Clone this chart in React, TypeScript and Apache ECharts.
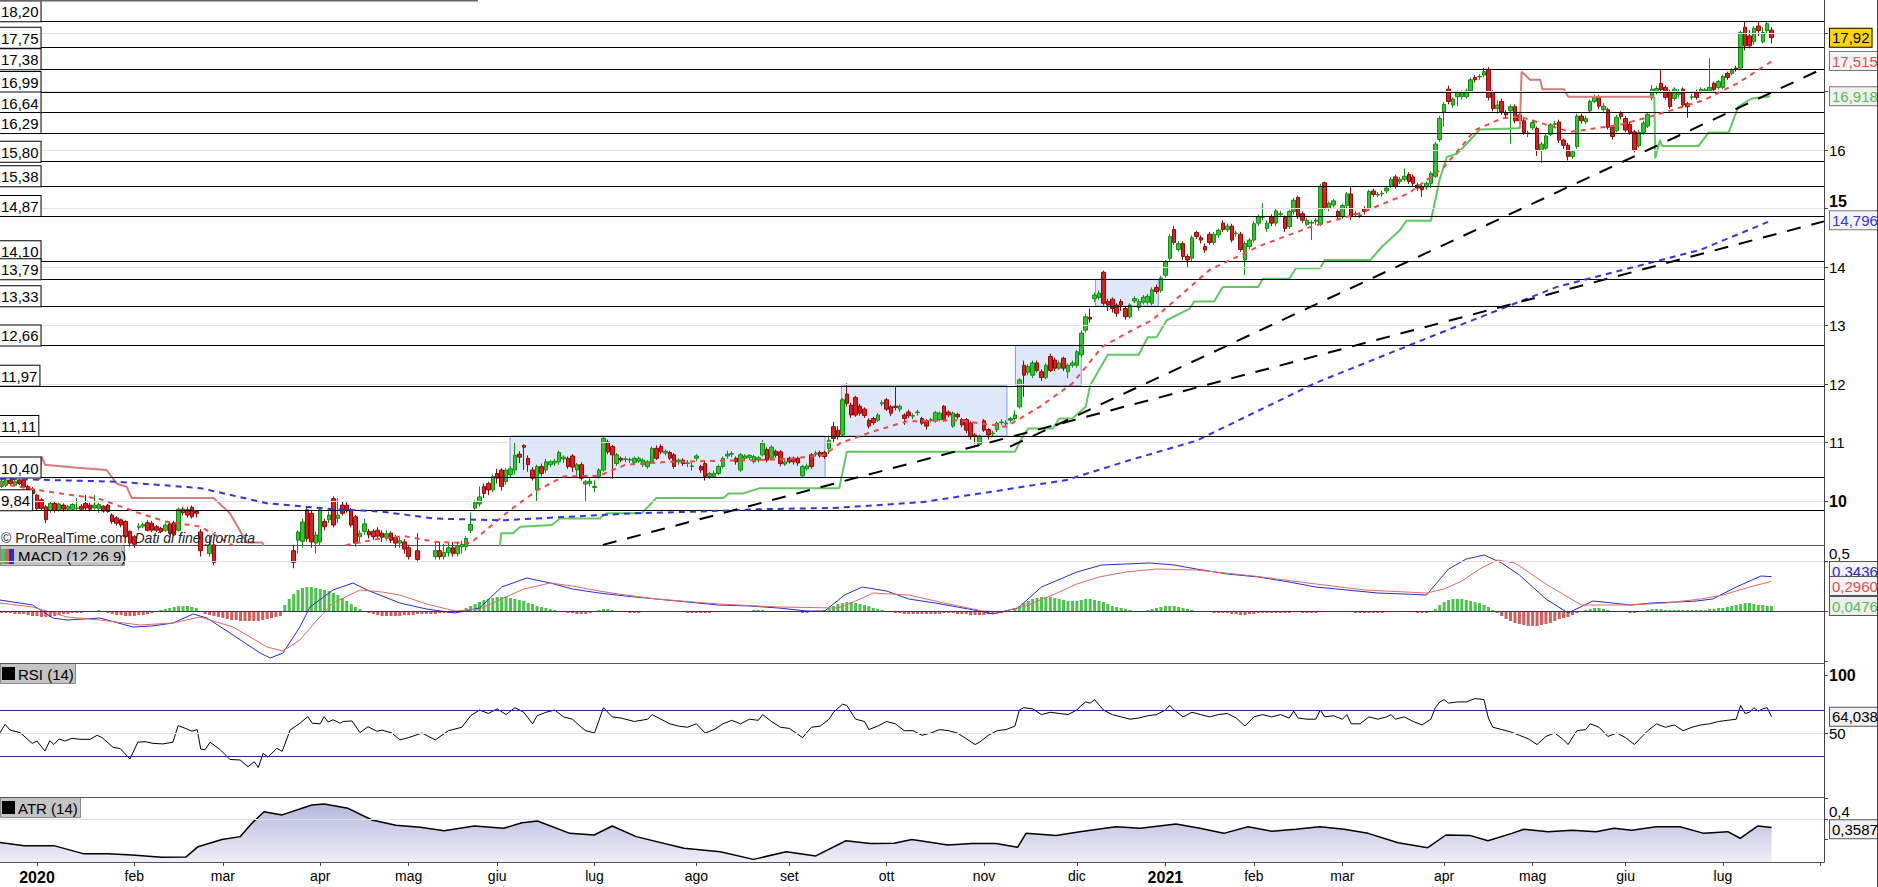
import React, { useEffect, useRef } from "react";
import * as echarts from "echarts";

// ================= DATA =================
// x = trading-day index, 0 = first session of 2020 (2 Jan); first candle = index -8 (mid Dec 2019)
const FIRST_DAY_INDEX = -8;

const monthTickIndex = [0, 22, 42, 64, 84, 104, 126, 149, 170, 192, 214, 235, 255, 275, 295, 318, 338, 359, 381, 403];
const monthTickLabel = ["2020", "feb", "mar", "apr", "mag", "giu", "lug", "ago", "set", "ott", "nov", "dic", "2021", "feb", "mar", "apr", "mag", "giu", "lug", ""];

// daily candles [open, close, low, high]
const ohlcDec19ToMay20 = [
  [10.25,10.34,10.22,10.38],[10.27,10.36,10.24,10.40],[10.36,10.30,10.27,10.39],[10.27,10.33,10.25,10.36],
  [10.36,10.30,10.27,10.38],[10.36,10.24,10.22,10.38],[10.25,10.19,10.16,10.28],[10.20,10.13,10.10,10.24],
  [10.10,9.87,9.85,10.12],[10.02,9.87,9.84,10.05],[9.90,9.68,9.62,9.93],[9.84,9.96,9.80,9.98],[9.96,9.84,9.80,9.99],
  [9.85,9.95,9.82,9.97],[9.93,9.86,9.82,9.96],[9.86,9.91,9.83,9.93],[9.86,9.94,9.84,9.96],[9.87,9.88,9.85,10.05],
  [9.91,9.86,9.83,9.95],[9.96,9.88,9.84,10.10],[9.93,9.86,9.82,9.97],[9.88,9.93,9.85,10.10],[9.87,9.94,9.80,9.97],
  [9.91,9.83,9.80,9.93],[9.93,9.82,9.80,9.95],[9.76,9.65,9.61,9.79],[9.71,9.62,9.58,9.74],[9.68,9.59,9.55,9.70],
  [9.65,9.39,9.36,9.67],[9.48,9.28,9.22,9.50],[9.39,9.26,9.20,9.42],[9.55,9.57,9.50,9.62],[9.57,9.60,9.54,9.63],
  [9.63,9.50,9.48,9.67],[9.62,9.50,9.47,9.66],[9.56,9.50,9.47,9.59],[9.53,9.48,9.45,9.56],[9.50,9.59,9.47,9.62],
  [9.61,9.45,9.42,9.64],[9.63,9.42,9.40,9.66],[9.50,9.86,9.48,9.89],[9.86,9.80,9.75,9.90],[9.85,9.76,9.72,9.90],
  [9.89,9.73,9.70,9.92],[9.82,9.79,9.72,9.84],[9.47,9.15,9.05,9.52],[9.15,9.00,8.95,9.22],[9.10,9.25,9.05,9.40],
  [9.25,8.95,8.90,9.30],[9.00,8.85,8.80,9.10],[8.85,9.05,8.80,9.15],[9.05,8.80,8.70,9.10],[8.80,8.60,8.50,8.90],
  [8.60,8.30,8.20,8.70],[8.30,8.55,8.20,8.60],[8.50,8.00,7.90,8.60],[8.00,7.60,7.40,8.10],[7.60,8.00,7.50,8.10],
  [8.00,7.50,7.30,8.10],[7.50,7.90,7.40,8.00],[7.90,7.60,7.40,8.10],[7.60,8.10,7.50,8.20],[8.10,7.80,7.60,8.30],
  [7.80,8.40,7.70,8.50],[8.40,8.80,8.30,8.90],[8.80,9.10,8.70,9.20],[9.15,8.95,8.85,9.25],[9.33,9.47,9.10,9.50],
  [9.31,9.64,9.20,9.70],[9.85,9.36,9.30,9.90],[9.79,9.30,9.20,9.85],[9.28,9.42,9.10,9.48],[9.30,9.85,9.25,9.90],
  [9.65,9.56,9.50,9.70],[9.68,9.76,9.62,9.82],[10.04,9.59,9.55,10.08],[9.70,9.76,9.62,10.05],[9.93,9.79,9.75,10.00],
  [9.93,9.85,9.80,9.98],[9.85,9.59,9.55,9.88],[9.73,9.28,9.22,9.76],[9.39,9.45,9.30,9.50],[9.48,9.61,9.42,9.70],
  [9.48,9.42,9.36,9.52],[9.48,9.39,9.33,9.52],[9.50,9.40,9.35,9.55],[9.45,9.38,9.30,9.50],[9.38,9.44,9.32,9.50],
  [9.45,9.33,9.28,9.48],[9.38,9.28,9.20,9.42],[9.28,9.32,9.20,9.38],[9.30,9.18,9.10,9.35],[9.20,9.05,9.00,9.25],
  [9.05,9.15,9.00,9.20],[9.15,9.00,8.95,9.45],[9.00,9.10,8.90,9.15],[9.10,8.95,8.90,9.15],[8.95,9.05,8.90,9.10],
  [9.05,9.15,9.00,9.28],[9.15,9.05,9.00,9.30],[9.05,9.12,9.00,9.27],[9.12,9.20,9.05,9.28],[9.20,9.10,9.05,9.30],
  [9.10,9.22,9.05,9.30],[9.22,9.26,9.10,9.32]
];
const ohlcJun20ToDec20 = [
  [9.22,9.36,9.15,9.40],[9.50,9.60,9.45,9.80],[9.88,9.98,9.85,10.02],[9.95,10.07,9.90,10.25],[10.25,10.13,10.05,10.30],
  [10.30,10.19,10.10,10.33],[10.19,10.42,10.15,10.45],[10.47,10.39,10.30,10.55],[10.53,10.25,10.18,10.56],
  [10.33,10.53,10.28,10.56],[10.45,10.55,10.40,10.60],[10.53,10.78,10.45,11.01],[10.80,10.75,10.65,10.85],
  [10.95,10.92,10.53,10.97],[10.73,10.62,10.50,10.78],[10.53,10.39,10.35,10.58],[10.19,10.59,10.00,10.62],
  [10.59,10.47,10.42,10.64],[10.53,10.67,10.48,10.72],[10.62,10.67,10.58,10.70],[10.65,10.68,10.60,10.72],
  [10.67,10.83,10.62,10.86],[10.72,10.75,10.65,10.78],[10.73,10.59,10.55,10.76],[10.77,10.58,10.50,10.80],
  [10.53,10.62,10.40,10.65],[10.62,10.39,10.35,10.66],[10.29,10.33,9.99,10.36],[10.30,10.34,10.25,10.40],
  [10.23,10.25,10.15,10.35],[10.42,10.53,10.38,10.56],[10.53,11.07,10.50,11.10],[11.01,10.84,10.80,11.05],
  [10.93,10.79,10.38,10.96],[10.64,10.79,10.60,10.82],[10.73,10.70,10.66,10.76],[10.71,10.72,10.66,10.76],
  [10.70,10.71,10.65,10.74],[10.66,10.73,10.62,10.76],[10.68,10.73,10.65,10.76],[10.62,10.70,10.58,10.73],
  [10.59,10.67,10.55,10.70],[10.67,10.90,10.64,10.93],[10.90,10.73,10.70,10.95],[10.93,10.84,10.80,10.97],
  [10.82,10.85,10.78,10.88],[10.83,10.73,10.70,10.86],[10.79,10.59,10.55,10.82],[10.67,10.70,10.62,10.73],
  [10.70,10.64,10.60,10.73],[10.64,10.65,10.58,10.70],[10.59,10.60,10.52,10.66],[10.73,10.77,10.68,10.80],
  [10.59,10.53,10.48,10.62],[10.64,10.42,10.35,10.67],[10.42,10.47,10.38,10.50],[10.42,10.47,10.40,10.52],
  [10.47,10.59,10.44,10.62],[10.59,10.73,10.56,10.76],[10.77,10.80,10.72,10.86],[10.80,10.81,10.75,10.85],
  [10.73,10.67,10.62,10.76],[10.53,10.79,10.50,10.82],[10.73,10.77,10.70,10.80],[10.74,10.78,10.70,10.80],
  [10.67,10.76,10.64,10.79],[10.70,10.74,10.66,10.77],[10.79,10.99,10.76,11.04],[10.88,10.70,10.66,10.92],
  [10.73,10.92,10.70,10.95],[10.85,10.78,10.74,10.88],[10.84,10.64,10.59,10.87],[10.63,10.67,10.60,10.70],
  [10.73,10.67,10.64,10.76],[10.73,10.67,10.62,10.76],[10.73,10.65,10.60,10.76],[10.43,10.59,10.40,10.62],
  [10.55,10.60,10.52,10.64],[10.79,10.59,10.55,10.82],[10.80,10.82,10.76,10.86],[10.83,10.77,10.74,10.86],
  [10.83,10.76,10.72,10.86],[10.90,11.04,10.80,11.12],[11.27,11.07,11.00,11.35],[11.21,11.10,11.05,11.28],
  [11.13,11.73,11.10,11.76],[11.83,11.67,11.62,12.01],[11.64,11.47,11.42,11.68],[11.77,11.47,11.44,11.80],
  [11.62,11.50,11.46,11.66],[11.57,11.46,11.42,11.60],[11.38,11.28,11.24,11.42],[11.41,11.34,11.30,11.44],
  [11.38,11.47,11.35,11.50],[11.66,11.68,11.62,11.72],[11.73,11.57,11.54,11.76],[11.61,11.50,11.45,11.64],
  [11.62,11.60,11.55,11.95],[11.57,11.62,11.52,11.65],[11.47,11.41,11.30,11.50],[11.52,11.46,11.42,11.56],
  [11.45,11.46,11.40,11.50],[11.51,11.52,11.46,11.56],[11.41,11.33,11.30,11.44],[11.37,11.28,11.22,11.40],
  [11.38,11.39,11.34,11.42],[11.37,11.51,11.34,11.54],[11.39,11.50,11.36,11.53],[11.62,11.39,11.36,11.64],
  [11.52,11.47,11.43,11.55],[11.28,11.50,11.25,11.53],[11.48,11.44,11.40,11.51],[11.39,11.30,11.26,11.42],
  [11.39,11.21,11.16,11.42],[11.33,11.10,11.05,11.36],[11.13,11.10,10.98,11.16],[10.97,11.11,10.94,11.14],
  [11.37,11.21,11.18,11.40],[11.22,11.13,11.05,11.25],[11.15,11.16,11.10,11.20],[11.22,11.33,11.18,11.36],
  [11.34,11.35,11.30,11.40],[11.32,11.33,11.28,11.38],[11.38,11.41,11.34,11.44],[11.41,11.47,11.38,11.55],
  [11.61,12.07,11.58,12.10],[12.32,12.15,11.78,12.40],[12.20,12.30,12.15,12.34],[12.15,12.36,12.10,12.40],
  [12.36,12.23,12.20,12.40],[12.21,12.11,12.05,12.25],[12.11,12.32,12.08,12.35],[12.47,12.23,12.20,12.52],
  [12.41,12.27,12.22,12.45],[12.27,12.36,12.24,12.40],[12.44,12.27,12.22,12.47],[12.21,12.32,12.10,12.35],
  [12.32,12.36,12.28,12.40],[12.32,12.55,12.28,12.58],[12.50,12.87,12.46,12.92],[12.92,13.15,12.88,13.20],
  [13.14,13.11,13.05,13.29],[13.46,13.52,13.40,13.56],[13.48,13.55,13.44,13.60],[13.91,13.38,13.34,13.94],
  [13.41,13.35,13.25,13.46],[13.45,13.29,13.22,13.48],[13.35,13.21,13.15,13.38],[13.41,13.35,13.25,13.45],
  [13.29,13.15,13.10,13.32],[13.15,13.35,13.12,13.38],[13.42,13.46,13.38,13.50],[13.31,13.41,13.25,13.45],
  [13.40,13.48,13.36,13.52],[13.40,13.50,13.36,13.54],[13.38,13.61,13.35,13.65],[13.65,13.58,13.54,13.70],
  [13.60,13.81,13.56,13.85]
];
const ohlcJan21ToJul21 = [
  [13.86,14.09,13.82,14.12],[14.15,14.52,14.10,14.56],[14.64,14.42,14.38,14.70],[14.30,14.40,14.26,14.44],
  [14.40,14.18,14.12,14.44],[14.18,14.12,13.98,14.22],[14.15,14.50,14.10,14.54],[14.59,14.52,14.48,14.62],
  [14.50,14.46,14.40,14.54],[14.35,14.29,14.24,14.40],[14.56,14.42,14.38,14.60],[14.42,14.56,14.38,14.60],
  [14.55,14.63,14.50,14.66],[14.75,14.64,14.60,14.80],[14.64,14.70,14.60,14.74],[14.70,14.46,14.42,14.74],
  [14.57,14.58,14.52,14.62],[14.56,14.30,14.26,14.60],[14.12,14.40,13.86,14.44],[14.35,14.46,14.30,14.50],
  [14.46,14.74,14.42,14.78],[14.75,14.86,14.70,14.90],[14.85,14.86,14.80,15.09],[14.66,14.75,14.60,14.80],
  [14.85,14.75,14.70,14.90],[14.75,14.96,14.70,15.00],[14.90,14.91,14.85,14.96],[14.85,14.66,14.60,14.88],
  [14.69,14.95,14.65,14.98],[14.95,15.14,14.90,15.18],[15.19,14.86,14.82,15.22],[14.91,14.80,14.75,14.95],
  [14.73,14.80,14.70,14.84],[14.75,14.76,14.46,14.80],[14.78,14.80,14.72,14.84],[14.73,15.38,14.70,15.42],
  [15.44,15.02,14.98,15.46],[15.00,15.09,14.95,15.12],[15.06,15.13,15.02,15.16],[14.95,14.86,14.82,14.98],
  [14.86,15.05,14.82,15.08],[15.05,15.25,15.00,15.28],[15.25,14.86,14.80,15.38],[14.90,14.91,14.85,14.96],
  [14.88,14.89,14.84,14.94],[15.00,14.95,14.90,15.04],[15.00,15.29,14.96,15.32],[15.30,15.24,15.20,15.34],
  [15.23,15.24,15.19,15.28],[15.25,15.26,15.20,15.30],[15.30,15.35,15.26,15.38],[15.38,15.50,15.35,15.54],
  [15.54,15.38,15.34,15.58],[15.46,15.50,15.42,15.54],[15.50,15.55,15.46,15.68],[15.58,15.46,15.42,15.62],
  [15.54,15.43,15.38,15.58],[15.40,15.35,15.30,15.44],[15.37,15.32,15.20,15.40],[15.37,15.43,15.32,15.46],
  [15.43,15.60,15.35,15.63],[15.55,16.10,15.52,16.14],[16.18,16.54,16.14,16.58],[16.65,16.78,16.40,16.82],
  [17.04,16.83,16.78,17.10],[16.77,16.87,16.72,16.90],[16.91,16.99,16.75,17.02],[16.91,16.99,16.86,17.02],
  [16.91,17.01,16.88,17.05],[17.01,17.20,16.98,17.24],[17.24,17.20,17.15,17.28],[17.25,17.26,17.20,17.30],
  [17.28,17.34,17.24,17.40],[17.38,16.90,16.85,17.42],[16.99,16.71,16.66,17.02],[16.71,16.77,16.62,16.85],
  [16.83,16.65,16.60,16.88],[16.64,16.60,16.55,16.68],[16.67,16.74,16.11,16.78],[16.74,16.50,16.46,16.78],
  [16.60,16.50,16.46,16.64],[16.50,16.30,16.26,16.54],[16.28,16.29,16.22,16.33],[16.38,16.47,16.34,16.52],
  [16.37,16.01,15.90,16.40],[15.99,16.10,15.78,16.14],[16.03,16.24,16.00,16.28],[16.27,16.43,16.24,16.46],
  [16.44,16.45,16.40,16.50],[16.48,16.17,16.12,16.52],[16.17,16.08,16.02,16.20],[16.08,15.89,15.82,16.12],
  [15.89,15.97,15.85,16.00],[16.06,16.58,16.02,16.62],[16.58,16.50,16.45,16.62],[16.48,16.54,16.44,16.58],
  [16.67,16.83,16.64,16.86],[16.83,16.91,16.80,16.95],[16.91,16.75,16.70,16.94],[16.69,16.75,16.65,16.80],
  [16.69,16.39,16.35,16.72],[16.39,16.23,16.18,16.42],[16.33,16.56,16.30,16.60],[16.63,16.57,16.52,16.66],
  [16.54,16.34,16.30,16.58],[16.44,16.30,16.26,16.48],[16.31,16.00,15.96,16.34],[16.07,16.30,16.04,16.34],
  [16.30,16.46,16.26,16.50],[16.41,16.61,16.38,16.64],[16.89,17.04,16.85,17.11],[17.00,17.05,16.95,17.09],
  [17.14,17.03,16.98,17.39],[17.07,16.90,16.86,17.10],[17.00,16.74,16.70,17.03],[16.88,17.04,16.84,17.07],
  [16.95,17.00,16.90,17.04],[17.04,16.77,16.72,17.07],[16.79,16.74,16.55,16.82],[16.90,16.91,16.86,16.96],
  [17.00,16.90,16.86,17.03],[17.00,17.04,16.96,17.07],[17.01,17.03,16.98,17.06],[17.01,17.07,16.98,17.57],
  [17.14,17.03,16.98,17.17],[17.07,17.17,17.03,17.20],[17.07,17.26,17.04,17.29],[17.31,17.24,17.20,17.34],
  [17.31,17.36,17.28,17.40],[17.40,17.38,17.34,17.44],[17.40,18.01,17.38,18.04],[18.10,17.78,17.70,18.20],
  [17.95,17.78,17.74,18.05],[17.85,18.08,17.80,18.12],[18.12,18.04,17.95,18.20],[17.85,18.01,17.82,18.10],
  [18.04,18.16,18.00,18.20],[18.05,17.92,17.82,18.10]
];

// moving averages & SuperTrend, [day index, value]
const maShortRed = [[-8.4,10.30],[0,10.19],[8,10.10],[14,10.04],[22,9.82],[29,9.65],[37,9.56],[44,9.25],[48,9.0],[55,8.5],[62,8.6],[70,9.25],[77,9.35],[83,9.40],[90,9.30],[98,9.28],[103,9.6],[107,9.85],[113,10.18],[119,10.42],[127,10.43],[133,10.62],[143,10.67],[163,10.70],[170,10.72],[178,10.79],[181.5,10.99],[189,11.19],[196.5,11.36],[208,11.38],[219,11.27],[226.6,11.61],[234,12.01],[240.8,12.64],[247,12.9],[252,13.09],[265,13.95],[276,14.35],[288,14.69],[299,14.92],[310,15.26],[318,15.71],[325,16.34],[331,16.54],[335,16.57],[346.5,16.31],[357.7,16.43],[365,16.58],[376.6,16.85],[384.3,17.14],[392,17.515]];
const maLongBlue = [[-8.4,10.38],[18,10.33],[37,10.22],[52,9.96],[67,9.86],[77.5,9.82],[90,9.70],[105,9.67],[120,9.73],[135,9.79],[150,9.82],[163,9.86],[180,9.88],[200,9.98],[215,10.15],[232.7,10.36],[247,10.70],[262,11.03],[289,12.02],[316,12.84],[343.5,13.66],[375.8,14.29],[392,14.796]];
const superTrendRed2020 = [[0.5,10.36],[1.05,10.76],[1.8,10.62],[9,10.57],[15.7,10.53],[18,10.30],[20.3,10.24],[21.4,10.05],[39.9,10.05],[43.6,9.79],[47.4,9.29],[51,9.29],[52,8.8]];
const superTrendGreen2020 = [[104.3,9.0],[104.9,9.45],[107.6,9.45],[109.2,9.56],[116.3,9.59],[118.2,9.70],[127.2,9.70],[128.7,9.79],[136.6,9.79],[140,10.05],[155.1,10.05],[156.3,10.13],[159.6,10.13],[163.4,10.22],[181.3,10.22],[183,10.84],[221,10.84],[222.5,11.07],[224,11.24],[229.6,11.24],[231,11.41],[234,11.41],[237,11.61],[238,11.98],[240,12.24],[242,12.50],[249,12.50],[251,12.80],[253,12.80],[255.3,13.09],[260.5,13.29],[261.5,13.41],[266,13.41],[268,13.66],[276,13.66],[277,13.80],[283,13.80],[284.5,13.98],[290,13.98],[291,14.12],[301.3,14.12],[304,14.35],[308,14.63],[309.5,14.79],[315,14.79],[317,15.5],[318.6,15.88],[321,15.94],[324.6,16.23],[326,16.35],[335.1,16.37]];
const superTrendRed2021 = [[335.1,16.37],[335.5,17.34],[337.4,17.2],[339.7,17.2],[340.2,17.04],[345.1,17.04],[346,16.91],[365.5,16.91]];
const superTrendGreen2021 = [[365.5,16.91],[365.7,15.86],[366.8,16.17],[367.2,16.07],[375.5,16.07],[377.8,16.30],[382.3,16.30],[384.5,16.74],[387.5,16.88],[391.7,16.918]];
const trendLineLower = [[127.9,9.25],[403.84,14.78]];
const trendLineUpper = [[219.9,10.93],[403.84,17.40]];

const levelLines = [18.20, 17.75, 17.38, 16.99, 16.64, 16.29, 15.80, 15.38, 14.87, 14.10, 13.79, 13.33, 12.66, 11.97, 11.11, 10.40, 9.84];
const priceGrid = [10, 11, 12, 13, 14, 15, 16, 17, 18];
const priceAxisLabels = [10, 11, 12, 13, 14, 15, 16];
// [x start, y low, x end, y high]
const consolidationBoxes = [[106.9,10.40,178.1,11.11],[181.8,11.11,219.2,11.97],[221.1,11.97,236,12.66],[239.2,13.33,253.4,13.79]];

// MACD (12 26 9)
const macdLine = [[-8.4,0.11],[-1,0.06],[3.6,-0.07],[6.8,-0.09],[14.2,-0.07],[21.7,-0.16],[26,-0.15],[30.7,-0.12],[35.3,-0.03],[38.4,-0.07],[44.3,-0.24],[50.4,-0.42],[52.7,-0.47],[55.6,-0.42],[59.4,-0.16],[61.7,0.04],[66.9,0.21],[71.4,0.28],[74.6,0.21],[82,0.08],[88,0.02],[94.5,-0.02],[100,0.03],[105,0.24],[110.7,0.33],[116,0.28],[121,0.22],[127,0.18],[133,0.15],[140,0.12],[147,0.09],[154,0.06],[161,0.05],[167.6,0.03],[174,0.0],[178,0.0],[182.5,0.16],[186.5,0.24],[192,0.2],[197,0.12],[203,0.08],[208,0.04],[213,0.0],[216,-0.03],[221.7,0.03],[227,0.24],[235,0.39],[240.6,0.46],[246,0.47],[251.5,0.48],[257,0.46],[262,0.42],[269,0.37],[276,0.34],[283,0.29],[289,0.24],[296,0.21],[303,0.18],[309,0.17],[314,0.16],[319,0.42],[323,0.52],[327,0.56],[331,0.48],[335,0.36],[341,0.12],[346,-0.02],[351.6,0.10],[356,0.08],[360,0.06],[365,0.08],[370.6,0.09],[375,0.10],[378.7,0.12],[384,0.24],[389.6,0.35],[392,0.3436]];
const macdSignal = [[-8.4,0.08],[-1,0.04],[6.8,-0.06],[14.2,-0.09],[23.3,-0.14],[30.7,-0.12],[36.8,-0.06],[44.3,-0.16],[52,-0.36],[55.6,-0.40],[59.4,-0.29],[63.3,-0.09],[66.9,0.08],[73,0.21],[78,0.19],[82,0.16],[88,0.07],[94.5,0.0],[100,0.02],[105,0.12],[110,0.22],[116,0.28],[121,0.25],[127,0.2],[133,0.16],[140,0.12],[154,0.07],[167.6,0.04],[181,0.03],[185,0.10],[189,0.18],[197,0.16],[205,0.08],[213.6,0.0],[218,-0.01],[224,0.06],[230,0.17],[235,0.27],[240,0.34],[246,0.39],[253,0.42],[262,0.41],[275,0.35],[289,0.27],[300,0.21],[314,0.18],[318,0.22],[322,0.30],[326,0.42],[330,0.51],[334,0.48],[341,0.27],[349,0.06],[355,0.06],[360,0.06],[368,0.08],[376,0.12],[381,0.16],[387,0.24],[392,0.296]];
// daily histogram, from index -8
const macdHist2020 = [
  -0.02,-0.02,-0.02,-0.03,-0.03,-0.03,-0.04,-0.05,
  -0.05,-0.06,-0.06,-0.06,-0.05,-0.04,-0.03,-0.03,-0.02,-0.02,
  -0.02,-0.01,-0.01,0.0,0.01,0.0,-0.02,-0.03,-0.04,-0.04,
  -0.05,-0.05,-0.05,-0.04,-0.04,-0.03,-0.02,-0.01,0.01,0.02,
  0.03,0.04,0.05,0.05,0.05,0.04,0.03,-0.01,-0.03,-0.04,
  -0.05,-0.06,-0.07,-0.08,-0.09,-0.09,-0.10,-0.10,-0.10,-0.10,
  -0.10,-0.09,-0.08,-0.07,-0.06,-0.05,0.06,0.12,0.17,0.21,
  0.23,0.24,0.24,0.23,0.22,0.21,0.20,0.18,0.16,0.13,
  0.10,0.07,0.04,0.02,-0.01,-0.02,-0.03,-0.04,-0.05,-0.05,
  -0.05,-0.05,-0.05,-0.04,-0.04,-0.04,-0.03,-0.03,-0.03,-0.03,
  -0.03,-0.02,-0.02,-0.02,-0.01,0.0,0.01,0.03,0.05,0.07,
  0.09,0.11,0.12,0.13,0.14,0.14,0.14,0.13,0.12,0.11,
  0.10,0.08,0.07,0.05,0.04,0.03,0.02,0.01,0.0,-0.01,
  -0.02,-0.02,-0.03,-0.03,-0.03,-0.02,-0.01,0.01,0.02,0.02,
  0.01,0.0,-0.01,-0.01,-0.02,-0.02,-0.02,-0.01,-0.01,0.0,
  0.0,0.0,-0.01,-0.01,-0.01,-0.01,-0.01,-0.02,-0.02,-0.02,
  -0.02,-0.02,-0.02,-0.01,-0.01,-0.01,0.0,0.0,0.0,0.0,
  0.0,0.0,0.01,0.01,0.01,0.0,0.0,0.0,-0.01,-0.01,
  -0.01,-0.01,-0.01,-0.02,-0.02,-0.01,-0.01,0.0,0.01,0.03,
  0.05,0.07,0.08,0.09,0.09,0.08,0.07,0.06,0.05,0.03,
  0.02,0.01,0.0,-0.01,-0.02,-0.02,-0.03,-0.03,-0.03,-0.03,
  -0.03,-0.03,-0.03,-0.03,-0.03,-0.02,-0.02,-0.02,-0.03,-0.03,
  -0.03,-0.04,-0.04,-0.04,-0.04,-0.03,-0.03,-0.02,-0.02,-0.01,
  0.0,0.02,0.05,0.08,0.10,0.12,0.13,0.14,0.14,0.14,
  0.13,0.12,0.11,0.10,0.10,0.10,0.11,0.12,0.12,0.11,
  0.10,0.09,0.07,0.05,0.04,0.03,0.02,0.01,0.0,0.0,
  0.0,0.01,0.02,0.03,0.04
];
const macdHist2021 = [
  0.05,0.05,0.05,0.04,0.03,
  0.02,0.01,0.0,-0.01,-0.01,-0.01,-0.02,-0.02,-0.02,-0.02,
  -0.03,-0.03,-0.04,-0.04,-0.03,-0.03,-0.02,-0.02,-0.02,-0.02,
  -0.02,-0.02,-0.02,-0.02,-0.01,-0.01,-0.02,-0.02,-0.02,-0.02,
  -0.01,0.0,0.0,-0.01,-0.01,-0.01,-0.01,-0.01,-0.02,-0.02,
  -0.02,-0.02,-0.02,-0.02,-0.02,-0.01,-0.01,-0.01,-0.01,-0.01,
  -0.01,-0.01,-0.02,-0.02,-0.02,-0.01,0.02,0.06,0.09,0.11,
  0.12,0.12,0.12,0.11,0.10,0.09,0.08,0.06,0.04,0.01,
  -0.02,-0.05,-0.08,-0.10,-0.12,-0.13,-0.14,-0.15,-0.15,-0.15,
  -0.14,-0.13,-0.12,-0.10,-0.08,-0.07,-0.06,-0.04,-0.02,0.0,
  0.01,0.02,0.03,0.03,0.02,0.01,0.0,0.0,-0.01,-0.01,
  -0.02,-0.02,-0.01,0.0,0.01,0.02,0.02,0.02,0.01,0.01,
  0.01,0.01,0.01,0.01,0.01,0.01,0.01,0.01,0.02,0.02,
  0.03,0.03,0.04,0.05,0.06,0.07,0.08,0.08,0.07,0.06,
  0.06,0.05,0.05
];

// RSI (14)
const rsiLine = [[-8.4,50],[-7.2,57.5],[-6.1,52.6],[-3.8,50.3],[-1.1,41],[0,43],[1.8,34.3],[2.9,43.3],[3.8,40],[5,44.8],[6.3,43],[7.9,45.4],[9.7,44.5],[12,44.5],[13.6,48],[14.7,46],[17.2,37.5],[18.8,36.5],[21,27.4],[22.8,42],[24.4,42.5],[26.2,41],[28.5,40.5],[30.7,42],[31.9,56.4],[33.9,53.5],[35,51.5],[36.2,53],[37,36],[38,35.5],[39.1,42],[41.4,35.5],[43.6,27],[45.9,26.5],[47.7,20.7],[49.1,25],[50,20],[51.1,32.3],[52.2,29],[54.2,36.7],[55.4,34],[57.2,52.6],[59.4,58.4],[61.2,64.2],[62.2,58.5],[64,58],[64.9,64.2],[65.8,59.5],[66.9,61.5],[68.5,58.5],[69.2,60],[71.2,60.5],[73,50.3],[74.8,55.5],[76.8,51.5],[78,52.5],[80.2,50],[82,44],[84,46],[87,50],[90,44],[93,52],[96,55],[98,65],[100,70],[102,67],[104,71],[106,66],[108,72],[110,68],[112,58],[113,65],[115,68],[117,70],[119,64],[121,62],[123,55],[124,52],[126,50],[128,72],[130,64],[132,63],[135,60],[138,62],[139,66],[141,62],[143,58],[145,56],[147,55],[149,58],[151,50],[153,53],[155,58],[157,61],[159,58],[161,62],[163,61],[164,66],[166,60],[168,55],[170,54],[173,46],[175,55],[177,56],[179,62],[180,68],[182,75],[183,74],[185,62],[187,60],[188,53],[190,56],[192,60],[194,58],[196,52],[198,52],[200,48],[202,50],[204,53],[206,52],[208,50],[210,45],[212,40],[213,42],[215,48],[217,52],[219,53],[221,56],[222,70],[223,72],[225,71],[227,66],[229,68],[231,67],[233,66],[235,70],[236,74],[237,77],[238,76],[239,79],[241,70],[243,66],[245,64],[247,62],[249,63],[251,65],[253,66],[255,70],[256,74],[257,70],[259,64],[261,68],[263,66],[265,64],[267,66],[269,67],[271,63],[273,56],[275,64],[277,66],[279,64],[281,66],[283,63],[284,69],[285,63],[287,62],[289,62],[290,70],[291,64],[293,65],[295,62],[296,66],[297,58],[299,58],[301,64],[303,62],[305,64],[306,66],[307,62],[309,64],[311,60],[313,57],[315,62],[316,72],[317,77],[318,79],[319,76],[321,77],[323,77],[325,80],[327,79],[328,63],[329,55],[331,53],[333,51],[335,48],[337,45],[339,40],[341,47],[343,50],[345,44],[346,40],[348,52],[350,53],[351,58],[353,55],[355,47],[357,50],[359,46],[361,40],[363,48],[364,52],[366,58],[368,55],[370,57],[372,52],[374,55],[376,57],[378,58],[380,60],[382,61],[384,62],[385,74],[386,67],[387,68],[388,72],[389,69],[390,71],[391,72],[392,64.038]];

// ATR (14)
const atrLine = [[-8.4,0.286],[-2.9,0.27],[3.8,0.27],[10.6,0.23],[16,0.23],[21.5,0.224],[28.2,0.213],[33.7,0.215],[36.4,0.265],[41.8,0.30],[45.9,0.314],[48.6,0.38],[51.3,0.435],[55.4,0.42],[62.1,0.468],[64.9,0.473],[70.3,0.452],[75.7,0.395],[81.1,0.37],[86.6,0.36],[92,0.343],[98.8,0.366],[105.5,0.355],[109.6,0.382],[113.1,0.39],[120.4,0.33],[125.9,0.322],[130,0.366],[135.4,0.314],[146.2,0.257],[154.4,0.24],[161.9,0.203],[169.3,0.24],[176,0.22],[182.8,0.294],[188.3,0.28],[193.7,0.282],[197.7,0.30],[205.9,0.273],[211.3,0.28],[216.7,0.28],[221.6,0.262],[223.5,0.33],[230.3,0.32],[235.7,0.338],[243.8,0.362],[249.3,0.355],[257.4,0.376],[262.8,0.355],[268.2,0.33],[273.7,0.362],[279.1,0.34],[284.5,0.35],[289.9,0.362],[295.4,0.35],[300.8,0.33],[307.6,0.284],[314.3,0.26],[318.4,0.322],[323.8,0.32],[327.9,0.294],[333.3,0.33],[336,0.35],[341.5,0.338],[346.9,0.345],[352.3,0.338],[356.4,0.355],[360.4,0.345],[365.9,0.362],[371.3,0.362],[376.7,0.33],[382.1,0.338],[384.9,0.306],[388.9,0.366],[392,0.3587]];

const lastValues = { close: 17.92, maRed: 17.515, superGreen: 16.918, maBlue: 14.796, macd: 0.3436, signal: 0.296, hist: 0.0476, rsi: 64.038, atr: 0.3587 };

// ================= LAYOUT =================
const PLOT_W = 1824;
const DAY_PX = 4.425;
const ORIGIN_PX = 37;
const X_MIN = -ORIGIN_PX / DAY_PX;
const X_MAX = (PLOT_W - ORIGIN_PX) / DAY_PX;
const FONT = "Liberation Sans, Arial, sans-serif";

const fmt = (v: number, d: number) => v.toFixed(d).replace(".", ",");

function buildOption() {
  const ohlc = [...ohlcDec19ToMay20, ...ohlcJun20ToDec20, ...ohlcJan21ToJul21];
  const candleData = ohlc.map((c, i) => [FIRST_DAY_INDEX + i, c[0], c[1], c[2], c[3]]);
  const hist = [...macdHist2020, ...macdHist2021];
  const histData = hist.map((v, i) => [FIRST_DAY_INDEX + i, v]);

  const grids = [
    { left: 0, top: 0, width: PLOT_W, height: 545 },
    { left: 0, top: 545, width: PLOT_W, height: 118 },
    { left: 0, top: 663, width: PLOT_W, height: 134 },
    { left: 0, top: 797, width: PLOT_W, height: 65 },
  ];

  const xAxes = grids.map((_, i) => ({
    type: "value",
    gridIndex: i,
    min: X_MIN,
    max: X_MAX,
    axisLine: { show: true, onZero: false, lineStyle: { color: "#555", width: 1 } },
    splitLine: { show: false },
    axisTick: i === 3 ? { show: true, length: 4, customValues: monthTickIndex, lineStyle: { color: "#444" } } : { show: false },
    axisLabel: i === 3 ? {
      show: true,
      customValues: monthTickIndex,
      margin: 7,
      color: "#000",
      fontSize: 14,
      fontFamily: FONT,
      formatter: (v: number) => {
        const k = monthTickIndex.indexOf(Math.round(v));
        const t = k >= 0 ? monthTickLabel[k] : "";
        return /^\d{4}$/.test(t) ? "{y|" + t + "}" : t;
      },
      rich: { y: { fontWeight: "bold", fontSize: 16, fontFamily: FONT, color: "#000" } },
    } : { show: false },
  }));

  const yCommon = (i: number, min: number, max: number, labels: number[], ticks: number[], f: (v: number) => string, vAlign = "middle") => ({
    type: "value",
    gridIndex: i,
    position: "right",
    min,
    max,
    axisLine: { show: true, onZero: false, lineStyle: { color: "#444", width: 1 } },
    splitLine: { show: false },
    axisTick: { show: true, length: 4, customValues: ticks, lineStyle: { color: "#444" } },
    axisLabel: {
      show: true,
      customValues: labels,
      margin: 5,
      color: "#000",
      fontSize: 15,
      fontFamily: FONT,
      verticalAlign: vAlign,
      formatter: f,
      rich: {
        b: { fontWeight: "bold", fontSize: 16, fontFamily: FONT, color: "#000" },
        up: { fontWeight: "bold", fontSize: 16, fontFamily: FONT, color: "#000", padding: [0, 0, 14, 0] },
      },
    },
  });

  const yAxes = [
    yCommon(0, 16 - 395 / 58.5, 16 + 150 / 58.5, priceAxisLabels, priceGrid, (v) => (v === 15 ? "{up|15}" : v === 10 ? "{b|10}" : String(v))),
    yCommon(1, -0.52, 0.66, [0.5], [-0.5, 0, 0.5], (v) => fmt(v, 1), "bottom"),
    yCommon(2, 50 - 64 / 1.15, 50 + 70 / 1.15, [50, 100], [50, 100], (v) => (v === 100 ? "{b|100}" : String(v))),
    yCommon(3, 0.4 - 43 / 205, 0.4 + 22 / 205, [0.4], [0.3, 0.4, 0.5], (v) => fmt(v, 1), "bottom"),
  ];

  const gridLine = (v: number) => ({ yAxis: v, lineStyle: { color: "#e2e2e2", width: 1, type: "solid" }, label: { show: false } });
  const valueBox = (v: number, text: string, color: string, bg: string, border: string, dy = 0) => ({
    yAxis: v,
    lineStyle: { color: "rgba(0,0,0,0)", width: 1, type: "solid" },
    label: {
      show: true,
      position: "end",
      distance: 6,
      formatter: text,
      color,
      fontSize: 15,
      fontFamily: FONT,
      backgroundColor: bg,
      borderColor: border,
      borderWidth: 1,
      padding: [2, 2, 1, 2],
      offset: [0, dy],
    },
  });
  const baseMark = { silent: true, symbol: ["none", "none"], animation: false };

  const lineSeries = (name: string, data: number[][], color: string, width: number, type: any, idx: number, z = 4, extra: any = {}) => ({
    name,
    type: "line",
    xAxisIndex: idx,
    yAxisIndex: idx,
    data,
    showSymbol: false,
    symbol: "none",
    clip: true,
    z,
    lineStyle: { color, width, type },
    ...extra,
  });

  const series: any[] = [
    // grid background lines
    { type: "line", xAxisIndex: 0, yAxisIndex: 0, data: [], z: 1, markLine: { ...baseMark, data: priceGrid.map(gridLine) } },
    { type: "line", xAxisIndex: 1, yAxisIndex: 1, data: [], z: 1, markLine: { ...baseMark, data: [gridLine(0.5), { yAxis: 0, lineStyle: { color: "#2a2aa0", width: 1, type: "solid" }, label: { show: false } }] } },
    { type: "line", xAxisIndex: 2, yAxisIndex: 2, data: [], z: 1, markLine: { ...baseMark, data: [gridLine(50), { yAxis: 70, lineStyle: { color: "#2a2aa0", width: 1, type: "solid" }, label: { show: false } }, { yAxis: 30, lineStyle: { color: "#2a2aa0", width: 1, type: "solid" }, label: { show: false } }] } },
    { type: "line", xAxisIndex: 3, yAxisIndex: 3, data: [], z: 1, markLine: { ...baseMark, data: [gridLine(0.4)] } },
    // candles with consolidation boxes
    {
      name: "Prezzo",
      type: "candlestick",
      xAxisIndex: 0,
      yAxisIndex: 0,
      data: candleData,
      encode: { x: 0, y: [1, 2, 3, 4] },
      barWidth: 4,
      clip: true,
      z: 3,
      itemStyle: { color: "#2fc72f", color0: "#dc2020", borderColor: "#158a15", borderColor0: "#8c0c0c", borderWidth: 1 },
      markArea: {
        silent: true,
        itemStyle: { color: "rgba(196,212,245,0.55)", borderColor: "#7d9be0", borderWidth: 1 },
        data: consolidationBoxes.map((b) => [{ xAxis: b[0], yAxis: b[1] }, { xAxis: b[2], yAxis: b[3] }]),
      },
    },
    lineSeries("SuperTrend", superTrendRed2020, "#d77a7a", 2, "solid", 0),
    lineSeries("SuperTrend", superTrendGreen2020, "#62c862", 2, "solid", 0),
    lineSeries("SuperTrend", superTrendRed2021, "#d77a7a", 2, "solid", 0),
    lineSeries("SuperTrend", superTrendGreen2021, "#62c862", 2, "solid", 0),
    lineSeries("Media breve", maShortRed, "#ee4a4a", 2, [5, 5], 0, 5),
    lineSeries("Media lunga", maLongBlue, "#3535dd", 2, [6, 5], 0, 5),
    lineSeries("Trend", trendLineLower, "#000", 2, [14, 11], 0, 5),
    lineSeries("Trend", trendLineUpper, "#000", 2, [14, 11], 0, 5),
    // level lines with left boxed labels
    {
      type: "line", xAxisIndex: 0, yAxisIndex: 0, data: [], z: 6,
      markLine: {
        ...baseMark,
        lineStyle: { color: "#000", width: 1, type: "solid" },
        label: {
          show: true,
          position: "insideStartTop",
          distance: [0, 0],
          color: "#000",
          fontSize: 15,
          fontFamily: FONT,
          backgroundColor: "#fff",
          borderColor: "#000",
          borderWidth: 1,
          padding: [3, 2, 2, 1],
        },
        data: levelLines.map((v) => ({ yAxis: v, label: { formatter: fmt(v, 2) } })),
      },
    },
    // MACD
    {
      name: "Istogramma", type: "bar", xAxisIndex: 1, yAxisIndex: 1, data: histData, barWidth: 3, z: 3,
      itemStyle: { color: (p: any) => (p.value[1] >= 0 ? "#4fc24f" : "#d06060") },
    },
    lineSeries("MACD", macdLine, "#2a2ad0", 1, "solid", 1),
    lineSeries("Segnale", macdSignal, "#e06a6a", 1, "solid", 1),
    // RSI
    lineSeries("RSI", rsiLine, "#000", 1, "solid", 2),
    // ATR
    lineSeries("ATR", atrLine, "#000", 1.5, "solid", 3, 4, {
      areaStyle: {
        origin: "start",
        color: new echarts.graphic.LinearGradient(0, 0, 0, 1, [
          { offset: 0, color: "#9799cc" },
          { offset: 1, color: "#e8e8f5" },
        ]),
      },
    }),
    // last-value boxes on the right
    { type: "line", xAxisIndex: 0, yAxisIndex: 0, data: [], z: 10, markLine: { ...baseMark, data: [
      valueBox(lastValues.close, fmt(lastValues.close, 2), "#000", "#ffd400", "#000"),
      valueBox(lastValues.maRed, fmt(lastValues.maRed, 3), "#e05050", "#f4f4f4", "#777"),
      valueBox(lastValues.superGreen, fmt(lastValues.superGreen, 3), "#55bb55", "#f0f0f0", "#777"),
      valueBox(lastValues.maBlue, fmt(lastValues.maBlue, 3), "#3434d8", "#f4f4f4", "#777"),
    ] } },
    { type: "line", xAxisIndex: 1, yAxisIndex: 1, data: [], z: 10, markLine: { ...baseMark, data: [
      valueBox(lastValues.macd, fmt(lastValues.macd, 4), "#2a2ad0", "#f4f4f4", "#555", -6),
      valueBox(lastValues.signal, fmt(lastValues.signal, 4), "#e05050", "#f4f4f4", "#555", 5),
      valueBox(lastValues.hist, fmt(lastValues.hist, 4), "#55bb55", "#eeeeee", "#555"),
    ] } },
    { type: "line", xAxisIndex: 2, yAxisIndex: 2, data: [], z: 10, markLine: { ...baseMark, data: [
      valueBox(lastValues.rsi, fmt(lastValues.rsi, 3), "#000", "#f0f0f0", "#555"),
    ] } },
    { type: "line", xAxisIndex: 3, yAxisIndex: 3, data: [], z: 10, markLine: { ...baseMark, data: [
      valueBox(lastValues.atr, fmt(lastValues.atr, 4), "#000", "#f0f0f0", "#555", 2),
    ] } },
  ];

  const header = (y: number, w: number, text: string, icon: any[]) => ({
    type: "group",
    z: 100,
    children: [
      { type: "rect", shape: { x: 0.5, y: y + 0.5, width: w, height: 20 }, style: { fill: "#c4c4c4", stroke: "#8a8a8a", lineWidth: 1 } },
      ...icon,
      { type: "text", x: 18, y: y + 11, style: { text, fill: "#000", font: "15px " + FONT, verticalAlign: "middle" } },
    ],
  });
  const blackSquare = (y: number) => [{ type: "rect", shape: { x: 2, y: y + 4, width: 13, height: 13 }, style: { fill: "#000" } }];

  return {
    animation: false,
    backgroundColor: "#fff",
    textStyle: { fontFamily: FONT },
    grid: grids,
    xAxis: xAxes,
    yAxis: yAxes,
    series,
    graphic: [
      { type: "line", z: 100, shape: { x1: 0, y1: 0.75, x2: 478, y2: 0.75 }, style: { stroke: "#666", lineWidth: 1.5 } },
      { type: "line", z: 100, shape: { x1: 1877.5, y1: 0, x2: 1877.5, y2: 887 }, style: { stroke: "#444", lineWidth: 1 } },
      {
        type: "text", z: 100, x: 1, y: 538,
        style: {
          text: "{a|© ProRealTime.com}  {b|Dati di fine giornata}",
          fill: "#222",
          font: "14px " + FONT,
          verticalAlign: "middle",
          rich: { a: { fontSize: 14, fontFamily: FONT, fill: "#222" }, b: { fontSize: 14, fontFamily: FONT, fontStyle: "italic", fill: "#222" } },
        },
      },
      header(545, 124, "MACD (12 26 9)", [
        { type: "rect", shape: { x: 1, y: 549, width: 4, height: 15 }, style: { fill: "#4fc24f" } },
        { type: "rect", shape: { x: 5, y: 549, width: 4, height: 15 }, style: { fill: "#d06060" } },
        { type: "rect", shape: { x: 9, y: 549, width: 5, height: 15 }, style: { fill: "#2a2ad0" } },
      ]),
      header(663, 75, "RSI (14)", blackSquare(663)),
      header(797, 80, "ATR (14)", blackSquare(797)),
    ],
  };
}

export default function App() {
  const ref = useRef<HTMLDivElement>(null);
  useEffect(() => {
    if (!ref.current) return;
    const chart = echarts.init(ref.current, null, { renderer: "svg" });
    chart.setOption(buildOption() as any);
    return () => chart.dispose();
  }, []);
  return (
    <div
      ref={ref}
      style={{ position: "fixed", left: 0, top: 0, width: 1878, height: 887, background: "#fff" }}
    />
  );
}
